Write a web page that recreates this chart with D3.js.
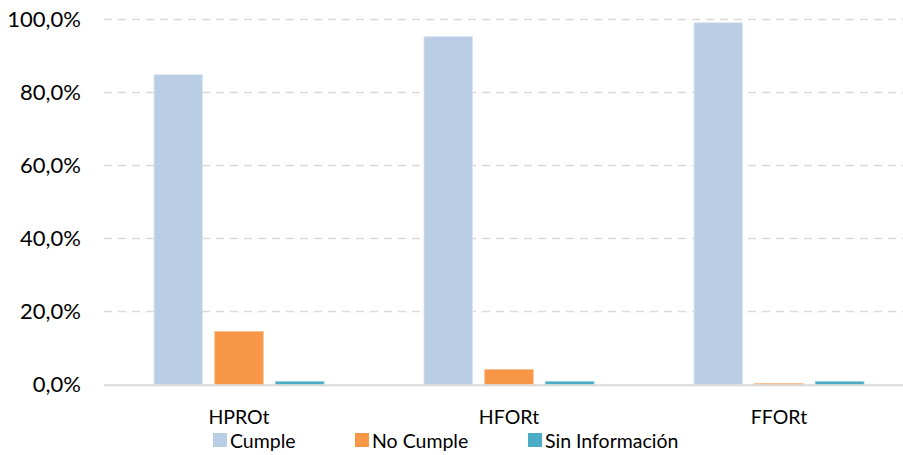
<!DOCTYPE html>
<html>
<head>
<meta charset="utf-8">
<script src="https://cdn.jsdelivr.net/npm/d3@7"></script>
<style>
  html, body { margin: 0; padding: 0; background: #fff; }
  svg { display: block; }
  text { font-family: Lato, "Open Sans", sans-serif; fill: #000; }
</style>
</head>
<body>
<svg id="chart" width="903" height="455"></svg>
<script>
// Indicator groups along the x axis
const categories = ["HPROt", "HFORt", "FFORt"];
// Series names, as shown in the legend
const seriesNames = ["Cumple", "No Cumple", "Sin Información"];
// Percentage of records per series, one value per indicator
const cumple = [84.7, 95.1, 98.9];
const noCumple = [14.5, 4.1, 0.3];
const sinInformacion = [0.8, 0.8, 0.8];
// Y axis ticks
const yTicks = [0, 20, 40, 60, 80, 100];

const seriesValues = [cumple, noCumple, sinInformacion];
const colors = ["#B9CDE5", "#F79646", "#4BACC6"];
const strokes = ["#DCE6F2", "#FAC090", "#92CDDC"];

const svg = d3.select("#chart");
const W = 903, H = 455;
const plotLeft = 104, plotRight = 914;

const x0 = d3.scaleBand().domain(categories).range([plotLeft, plotRight]);
const x1 = d3.scaleBand().domain(seriesNames).range([50, 220]).paddingInner(0.2);
const y = d3.scaleLinear().domain([0, 100]).range([384.5, 18.7]);

const fmt = v => d3.format(".1f")(v).replace(".", ",") + "%";

// Dashed horizontal gridlines
const grid = svg.append("g");
grid.selectAll("line")
  .data(yTicks.filter(t => t > 0))
  .join("line")
  .attr("x1", plotLeft).attr("x2", W)
  .attr("y1", d => Math.round(y(d)) + 0.5)
  .attr("y2", d => Math.round(y(d)) + 0.5)
  .attr("stroke", "#D9D9D9")
  .attr("stroke-width", 1.5)
  .attr("stroke-dasharray", "8,6");

// Y axis labels
svg.append("g").selectAll("text")
  .data(yTicks)
  .join("text")
  .attr("x", 81)
  .attr("y", d => y(d))
  .attr("dy", "0.36em")
  .attr("text-anchor", "end")
  .attr("font-size", 22)
  .text(fmt);

// Bars
const rows = categories.map((c, i) => ({
  cat: c,
  vals: seriesNames.map((s, j) => ({ s, j, v: seriesValues[j][i] }))
}));

const groups = svg.append("g").selectAll("g")
  .data(rows)
  .join("g")
  .attr("transform", d => `translate(${x0(d.cat)},0)`);

groups.selectAll("rect")
  .data(d => d.vals)
  .join("rect")
  .attr("x", d => x1(d.s))
  .attr("width", x1.bandwidth())
  .attr("y", d => y(d.v))
  .attr("height", d => y(0) - y(d.v))
  .attr("fill", d => colors[d.j])
  .attr("stroke", d => strokes[d.j])
  .attr("stroke-width", 0.8);

// Baseline
svg.append("line")
  .attr("x1", plotLeft).attr("x2", W)
  .attr("y1", 385.2).attr("y2", 385.2)
  .attr("stroke", "#D9D9D9")
  .attr("stroke-width", 2);

// Category labels
svg.append("g").selectAll("text")
  .data(categories)
  .join("text")
  .attr("x", d => x0(d) + 135)
  .attr("y", 424)
  .attr("text-anchor", "middle")
  .attr("font-size", 19.5)
  .text(d => d);

// Legend
const legendX = [213, 355, 528];
const legend = svg.append("g").selectAll("g")
  .data(seriesNames)
  .join("g")
  .attr("transform", (d, i) => `translate(${legendX[i]},0)`);
legend.append("rect")
  .attr("x", 0).attr("y", 433)
  .attr("width", 14).attr("height", 14)
  .attr("fill", (d, i) => colors[i]);
legend.append("text")
  .attr("x", 17).attr("y", 447.5)
  .attr("font-size", 19.5)
  .text(d => d);
</script>
</body>
</html>
